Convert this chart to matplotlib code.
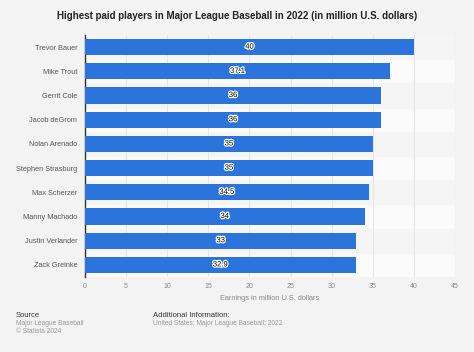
import matplotlib.pyplot as plt
import matplotlib.patheffects as pe

plt.rcParams['font.family'] = ['Liberation Sans', 'DejaVu Sans']

players = ['Trevor Bauer', 'Mike Trout', 'Gerrit Cole', 'Jacob deGrom', 'Nolan Arenado',
           'Stephen Strasburg', 'Max Scherzer', 'Manny Machado', 'Justin Verlander', 'Zack Greinke']
earnings = [40, 37.1, 36, 36, 35, 35, 34.5, 34, 33, 32.9]
labels = ['40', '37.1', '36', '36', '35', '35', '34.5', '34', '33', '32.9']
xticks = [0, 5, 10, 15, 20, 25, 30, 35, 40, 45]

fig = plt.figure(figsize=(4.74, 3.52), dpi=100)
fig.patch.set_facecolor('#f3f3f3')
ax = fig.add_axes([0.1793, 0.2131, 0.7807, 0.6875])
ax.set_facecolor('#fbfbfb')

n = len(players)
ypos = list(range(n))
# alternating row stripes
for i in ypos:
    if i % 2 == 0:
        ax.axhspan(i - 0.5, i + 0.5, color='#f5f5f5', zorder=0)

ax.barh(ypos, earnings, height=0.67, color='#2a74db', zorder=3)
for y, v, lab in zip(ypos, earnings, labels):
    ax.text(v / 2, y, lab, ha='center', va='center', fontsize=5.5, color='black', zorder=4,
            path_effects=[pe.withStroke(linewidth=1.8, foreground='white')])

ax.set_xlim(0, 45)
ax.set_ylim(n - 0.5, -0.5)
ax.set_yticks(ypos)
ax.set_yticklabels(players, fontsize=5.3, color='#555555')
ax.set_xticks(xticks)
ax.set_xticklabels([str(t) for t in xticks], fontsize=5, color='#888888')
ax.tick_params(axis='y', length=0, pad=5.5)
ax.tick_params(axis='x', length=0, pad=4)
ax.grid(axis='x', color='#e6e6e6', linewidth=0.8, zorder=1)
for s in ['top', 'right', 'bottom']:
    ax.spines[s].set_visible(False)
ax.spines['left'].set_color('#333333')
ax.spines['left'].set_linewidth(1)
ax.set_xlabel('Earnings in million U.S. dollars', fontsize=5.3, color='#888888', labelpad=4)

fig.text(0.5, 0.955, 'Highest paid players in Major League Baseball in 2022 (in million U.S. dollars)',
         ha='center', va='center', fontsize=7, fontweight='bold', color='#222222')
fig.text(0.033, 0.105, 'Source', fontsize=5.5, color='#333333', va='center')
fig.text(0.033, 0.080, 'Major League Baseball', fontsize=4.8, color='#999999', va='center')
fig.text(0.033, 0.057, '© Statista 2024', fontsize=4.8, color='#999999', va='center')
fig.text(0.323, 0.105, 'Additional Information:', fontsize=5.5, color='#333333', va='center')
fig.text(0.323, 0.080, 'United States; Major League Baseball; 2022', fontsize=4.8, color='#999999', va='center')

fig.savefig('out.png', dpi=100, facecolor=fig.get_facecolor())
